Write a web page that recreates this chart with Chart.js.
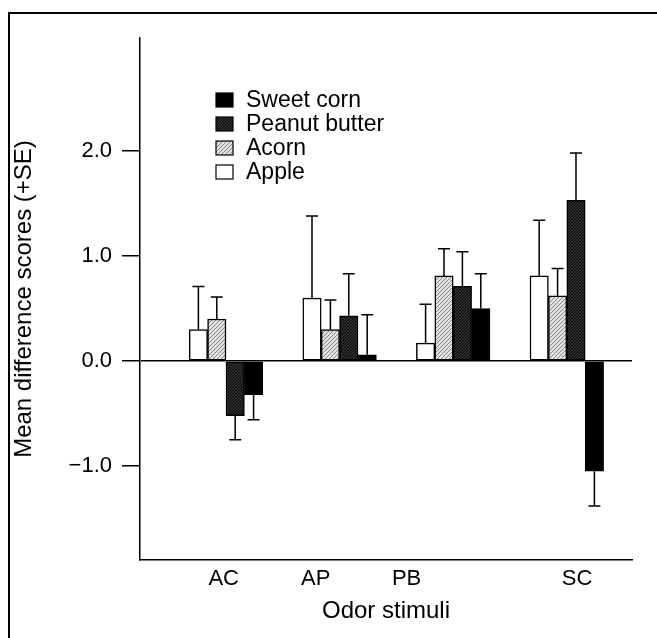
<!DOCTYPE html>
<html>
<head>
<meta charset="utf-8">
<script src="https://cdn.jsdelivr.net/npm/chart.js@4.4.0/dist/chart.umd.min.js"></script>
<style>
  html, body { margin: 0; padding: 0; background: #fff; }
  #wrap { position: relative; width: 657px; height: 638px; overflow: hidden; }
  #frame { position: absolute; left: 8px; top: 12px; width: 700px; height: 700px;
           border-left: 2px solid #000; border-top: 2px solid #000; }
  canvas { position: absolute; left: 0; top: 0; }
</style>
</head>
<body>
<div id="wrap">
  <div id="frame"></div>
  <canvas id="chart" width="657" height="638"></canvas>
</div>
<script>
// data
const categories = ['AC', 'AP', 'PB', 'SC'];
const seriesNames = ['Apple', 'Acorn', 'Peanut butter', 'Sweet corn'];

const apple       = [0.30, 0.60, 0.17, 0.81];
const appleSE     = [0.41, 0.78, 0.37, 0.53];
const acorn       = [0.40, 0.30, 0.81, 0.62];
const acornSE     = [0.21, 0.28, 0.26, 0.26];
const peanut      = [-0.52, 0.43, 0.71, 1.53];
const peanutSE    = [0.23, 0.40, 0.33, 0.45];
const sweetCorn   = [-0.32, 0.06, 0.50, -1.05];
const sweetCornSE = [0.24, 0.38, 0.33, 0.33];

const yTicks = [-1, 0, 1, 2];
// where the category labels sit on the x axis (the original prints them off-centre)
const labelSpots = [-0.02, 0.79, 1.59, 3.09];

Chart.defaults.font.family = "'Liberation Sans', Arial, sans-serif";
Chart.defaults.color = '#000';

const ctx = document.getElementById('chart').getContext('2d');

function hatch() {
  const c = document.createElement('canvas');
  c.width = 4; c.height = 4;
  const g = c.getContext('2d');
  g.fillStyle = '#e0e0e0';
  g.fillRect(0, 0, 4, 4);
  g.strokeStyle = '#8a8a8a';
  g.lineWidth = 1;
  g.beginPath(); g.moveTo(-1, 5); g.lineTo(5, -1); g.stroke();
  return ctx.createPattern(c, 'repeat');
}

function stipple() {
  const c = document.createElement('canvas');
  c.width = 3; c.height = 3;
  const g = c.getContext('2d');
  g.fillStyle = '#141414';
  g.fillRect(0, 0, 3, 3);
  g.fillStyle = '#3c3c3c';
  g.fillRect(0, 0, 1, 1);
  g.fillRect(2, 1, 1, 1);
  g.fillRect(1, 2, 1, 1);
  return ctx.createPattern(c, 'repeat');
}

const fills = ['#ffffff', hatch(), stipple(), '#000000'];
const values = [apple, acorn, peanut, sweetCorn];
const errs = [appleSE, acornSE, peanutSE, sweetCornSE];

const errorBars = {
  id: 'errorBars',
  afterDatasetsDraw(chart) {
    const c = chart.ctx;
    const y = chart.scales.y;
    c.save();
    c.strokeStyle = '#000';
    c.lineWidth = 1.5;
    chart.data.datasets.forEach((ds, i) => {
      chart.getDatasetMeta(i).data.forEach((bar, j) => {
        const v = ds.data[j].y;
        const end = y.getPixelForValue(v < 0 ? v - ds.errors[j] : v + ds.errors[j]);
        c.beginPath();
        c.moveTo(bar.x, bar.y);
        c.lineTo(bar.x, end);
        c.moveTo(bar.x - 6, end);
        c.lineTo(bar.x + 6, end);
        c.stroke();
      });
    });
    c.restore();
  }
};

// legend drawn inside the plot, reversed order like the original
const boxLegend = {
  id: 'boxLegend',
  afterDraw(chart) {
    const c = chart.ctx;
    const area = chart.chartArea;
    const x0 = area.left + 76, y0 = area.top + 62;
    c.save();
    c.font = "23px 'Liberation Sans', Arial, sans-serif";
    c.textBaseline = 'middle';
    const list = chart.data.datasets.slice().reverse();
    list.forEach((ds, k) => {
      const cy = y0 + k * 24;
      c.fillStyle = ds.backgroundColor;
      c.fillRect(x0, cy - 7, 17, 14);
      c.strokeStyle = '#000';
      c.lineWidth = 1.2;
      c.strokeRect(x0, cy - 7, 17, 14);
      c.fillStyle = '#000';
      c.fillText(ds.label, x0 + 30, cy + 1);
    });
    c.restore();
  }
};

new Chart(ctx, {
  type: 'bar',
  data: {
    datasets: seriesNames.map((name, i) => ({
      label: name,
      data: values[i].map((v, j) => ({ x: j, y: v })),
      errors: errs[i],
      backgroundColor: fills[i],
      borderColor: '#000',
      borderWidth: 1.5,
      borderSkipped: false,
      barThickness: 18.4
    }))
  },
  options: {
    responsive: false,
    animation: false,
    layout: { padding: { left: 10, top: 38, right: 25, bottom: 12 } },
    plugins: {
      legend: { display: false },
      tooltip: { enabled: false }
    },
    scales: {
      x: {
        type: 'linear',
        offset: false,
        min: -0.757,
        max: 3.574,
        afterBuildTicks: axis => { axis.ticks = labelSpots.map(v => ({ value: v })); },
        afterFit: axis => { axis.height = 66; },
        grid: { display: false },
        border: { display: true, color: '#000', width: 1.5 },
        ticks: {
          autoSkip: false,
          maxRotation: 0,
          padding: -2,
          font: { size: 22 },
          callback: (v, i) => categories[i]
        },
        title: { display: true, text: 'Odor stimuli', font: { size: 24 }, padding: { top: 0, bottom: 0 } }
      },
      y: {
        min: -1.895,
        max: 3.076,
        afterBuildTicks: axis => { axis.ticks = yTicks.map(v => ({ value: v })); },
        afterFit: axis => { axis.width = 130; },
        grid: {
          drawOnChartArea: true,
          color: c => (c.tick && c.tick.value === 0 ? '#000' : 'rgba(0,0,0,0)'),
          lineWidth: 1.5,
          drawTicks: true,
          tickLength: 18,
          tickColor: '#000',
          tickWidth: 1.5
        },
        border: { display: true, color: '#000', width: 1.5 },
        ticks: {
          padding: 10,
          font: { size: 22 },
          callback: v => (v < 0 ? '\u2212' + Math.abs(v).toFixed(1) : v.toFixed(1))
        },
        title: { display: true, text: 'Mean difference scores (+SE)', font: { size: 24 }, padding: { top: 0, bottom: 0 } }
      }
    }
  },
  plugins: [errorBars, boxLegend]
});
</script>
</body>
</html>
